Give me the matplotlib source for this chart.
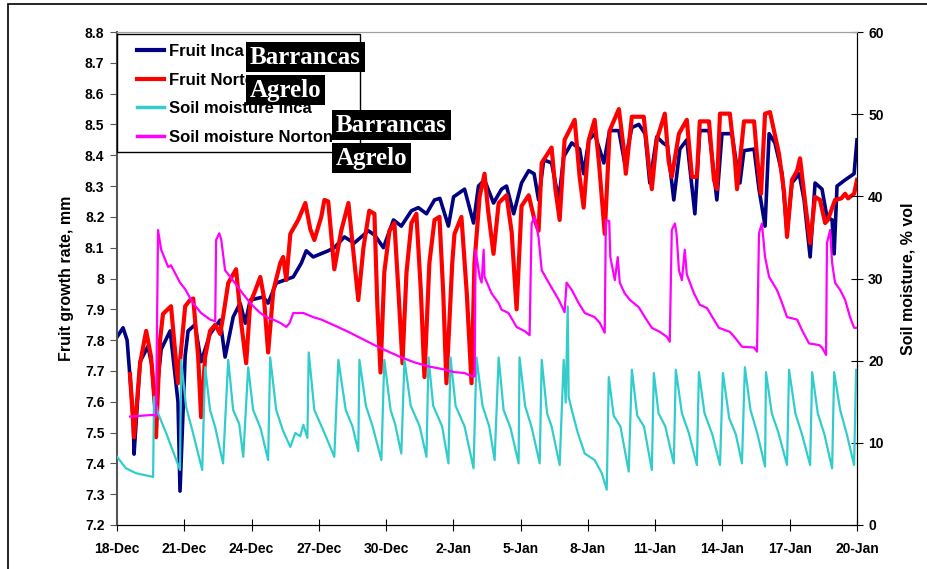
import matplotlib
matplotlib.use('Agg')
from matplotlib import pyplot as plt
from matplotlib.lines import Line2D
from matplotlib.patches import Rectangle

plt.rcParams['font.family'] = ['Liberation Sans', 'DejaVu Sans']
plt.rcParams['font.weight'] = 'bold'

# days since 18-Dec
date_labels = ['18-Dec', '21-Dec', '24-Dec', '27-Dec', '30-Dec', '2-Jan',
               '5-Jan', '8-Jan', '11-Jan', '14-Jan', '17-Jan', '20-Jan']

inca_days = [0.0, 0.27, 0.45, 0.72, 0.76, 1.03, 1.38, 1.55, 1.70, 1.97, 2.37, 2.72, 2.81,
             3.04, 3.17, 3.48, 3.75, 4.15, 4.60, 4.82, 5.18, 5.49, 5.72, 5.94, 6.52, 6.74,
             7.10, 7.86, 8.22, 8.44, 8.75, 9.42, 9.69, 10.14, 10.58, 11.21, 11.50, 11.88,
             12.33, 12.68, 13.13, 13.44, 13.80, 14.16, 14.40, 14.78, 15.01, 15.50, 15.90,
             16.12, 16.39, 16.79, 17.15, 17.37, 17.69, 18.04, 18.36, 18.60, 18.80, 19.03,
             19.38, 19.70, 19.92, 20.28, 20.63, 20.81, 21.04, 21.30, 21.71, 21.97, 22.38,
             22.64, 22.96, 23.27, 23.55, 23.76, 24.07, 24.35, 24.55, 24.83, 25.10, 25.41,
             25.77, 25.99, 26.40, 26.62, 26.75, 26.98, 27.42, 27.65, 27.78, 27.96, 28.41,
             28.63, 28.90, 29.08, 29.34, 29.66, 29.88, 30.10, 30.42, 30.64, 30.91, 31.13,
             31.44, 31.66, 31.89, 31.98, 32.11, 32.47, 32.87, 33.0]
inca_fruit = [7.81, 7.84, 7.80, 7.55, 7.43, 7.73, 7.78, 7.72, 7.58, 7.77, 7.83, 7.60, 7.31,
              7.75, 7.83, 7.85, 7.73, 7.82, 7.865, 7.745, 7.875, 7.92, 7.855, 7.93, 7.94, 7.92,
              7.985, 8.005, 8.05, 8.09, 8.07, 8.09, 8.10, 8.135, 8.115, 8.155, 8.14, 8.10,
              8.19, 8.17, 8.22, 8.23, 8.21, 8.255, 8.26, 8.17, 8.265, 8.29, 8.18,
              8.30, 8.32, 8.245, 8.29, 8.30, 8.21, 8.31, 8.35, 8.34, 8.255, 8.385,
              8.375, 8.255, 8.395, 8.44, 8.42, 8.34, 8.45, 8.47, 8.375, 8.48, 8.48,
              8.375, 8.49, 8.50, 8.47, 8.31, 8.46, 8.44, 8.43, 8.255, 8.42, 8.45,
              8.21, 8.48, 8.48, 8.34, 8.255, 8.47, 8.47, 8.36, 8.31, 8.415, 8.42,
              8.29, 8.17, 8.47, 8.44, 8.34, 8.15, 8.31, 8.34, 8.255, 8.07, 8.31,
              8.29, 8.20, 8.19, 8.08, 8.30, 8.32, 8.34, 8.45]

norton_days = [0.58, 0.76, 1.03, 1.30, 1.52, 1.70, 1.74, 1.92, 2.05, 2.41, 2.72, 3.04, 3.26,
               3.40, 3.62, 3.75, 3.93, 4.15, 4.38, 4.60, 4.73, 4.96, 5.31, 5.54, 5.76, 5.94,
               6.16, 6.39, 6.55, 6.74, 6.97, 7.28, 7.41, 7.55, 7.73, 8.08, 8.40, 8.62, 8.80,
               9.11, 9.25, 9.42, 9.69, 10.00, 10.32, 10.58, 10.76, 10.99, 11.25, 11.48, 11.61,
               11.75, 11.92, 12.15, 12.37, 12.55, 12.73, 12.91, 13.13, 13.35, 13.55, 13.71,
               13.93, 14.16, 14.38, 14.55, 14.69, 14.95, 15.05, 15.36, 15.60, 15.81, 15.94,
               16.17, 16.39, 16.55, 16.79, 17.02, 17.37, 17.60, 17.82, 18.04, 18.36, 18.62,
               18.80, 18.94, 19.38, 19.55, 19.74, 19.96, 20.41, 20.63, 20.81, 21.04, 21.30,
               21.50, 21.75, 21.97, 22.38, 22.60, 22.69, 22.96, 23.49, 23.70, 23.85, 24.07,
               24.43, 24.60, 24.74, 25.06, 25.41, 25.64, 25.86, 25.99, 26.40, 26.62, 26.75,
               26.89, 27.33, 27.55, 27.65, 27.96, 28.41, 28.55, 28.72, 28.90, 29.12, 29.52,
               29.75, 29.88, 30.10, 30.33, 30.46, 30.70, 30.91, 31.13, 31.35, 31.58, 31.70,
               32.02, 32.30, 32.47, 32.60, 32.87, 33.0]
norton_fruit = [7.69, 7.485, 7.725, 7.83, 7.745, 7.58, 7.485, 7.80, 7.885, 7.91, 7.66, 7.91, 7.93,
                7.935, 7.745, 7.55, 7.745, 7.83, 7.85, 7.82, 7.875, 7.985, 8.03, 7.855, 7.725, 7.92,
                7.96, 8.005, 7.94, 7.76, 7.96, 8.05, 8.07, 7.995, 8.145, 8.19, 8.245, 8.16, 8.125,
                8.20, 8.255, 8.25, 8.03, 8.155, 8.245, 8.06, 7.93, 8.10, 8.22, 8.21, 7.91,
                7.695, 8.02, 8.155, 8.18, 7.96, 7.725, 8.02, 8.18, 8.21, 7.96, 7.68,
                8.05, 8.19, 8.20, 7.95, 7.66, 8.05, 8.145, 8.20, 7.95, 7.66, 8.05,
                8.265, 8.34, 8.22, 8.08, 8.245, 8.27, 8.15, 7.90, 8.235, 8.27, 8.19,
                8.155, 8.375, 8.425, 8.29, 8.19, 8.45, 8.515, 8.33, 8.23, 8.45, 8.515,
                8.37, 8.145, 8.48, 8.55, 8.42, 8.34, 8.525, 8.525, 8.38, 8.29, 8.45,
                8.535, 8.38, 8.33, 8.47, 8.515, 8.33, 8.33, 8.51, 8.51, 8.32, 8.29,
                8.535, 8.535, 8.39, 8.29, 8.51, 8.51, 8.39, 8.275, 8.535, 8.54, 8.405,
                8.28, 8.135, 8.32, 8.35, 8.39, 8.24, 8.115, 8.265, 8.255, 8.18, 8.19,
                8.255, 8.26, 8.275, 8.26, 8.275, 8.32]

inca_soil_days = [0.0, 0.40, 0.85, 1.61, 1.65, 1.83, 2.19, 2.59, 2.81, 2.86, 3.08, 3.39, 3.80,
                  3.93, 4.15, 4.38, 4.73, 4.96, 5.18, 5.45, 5.63, 5.85, 6.07, 6.40, 6.74, 6.83,
                  7.10, 7.40, 7.73, 7.95, 8.17, 8.31, 8.49, 8.55, 8.80, 9.25, 9.69, 9.87, 10.2,
                  10.5, 10.76, 10.81, 11.1, 11.4, 11.79, 11.92, 12.2, 12.4, 12.68, 12.82, 13.1,
                  13.5, 13.80, 13.89, 14.1, 14.5, 14.78, 14.87, 15.1, 15.5, 15.90, 16.03, 16.3,
                  16.6, 16.84, 17.02, 17.24, 17.55, 17.91, 17.95, 18.2, 18.5, 18.85, 18.94,
                  19.18, 19.38, 19.74, 19.92, 20.01, 20.10, 20.14, 20.28, 20.55, 20.86, 21.30,
                  21.62, 21.84, 21.93, 22.15, 22.45, 22.82, 22.96, 23.2, 23.5, 23.85, 23.94,
                  24.15, 24.45, 24.83, 24.92, 25.19, 25.5, 25.86, 25.95, 26.2, 26.55, 26.89,
                  27.02, 27.3, 27.6, 27.87, 28.00, 28.25, 28.55, 28.90, 28.94, 29.2, 29.5,
                  29.88, 29.97, 30.25, 30.55, 30.91, 31.00, 31.25, 31.55, 31.89, 31.98, 32.25,
                  32.55, 32.87, 32.96, 33.0]
inca_soil = [8.3, 6.9, 6.3, 5.85, 15.6, 13.6, 11.2, 8.3, 6.7, 20.1, 14.4, 11.2, 6.7,
             19.2, 14.0, 11.9, 7.5, 20.1, 14.0, 12.3, 8.3, 19.2, 14.0, 11.8, 7.9, 20.4,
             14.0, 11.5, 9.5, 11.2, 10.8, 12.2, 10.6, 21.0, 14.0, 11.2, 8.3, 20.1, 14.0,
             12.0, 9.0, 20.1, 14.5, 12.0, 7.9, 20.1, 14.0, 12.3, 8.7, 20.1, 14.5,
             12.0, 8.3, 20.4, 14.5, 12.0, 7.5, 20.4, 14.5, 12.0, 6.9, 20.4, 14.5,
             12.0, 7.9, 20.4, 14.0, 11.8, 7.5, 20.4, 14.5, 11.8, 7.5, 20.1,
             13.6, 12.0, 7.3, 20.1, 14.9, 26.6, 15.6, 14.0, 11.2, 8.7, 7.9,
             6.3, 4.3, 18.0, 13.3, 12.0, 6.5, 18.9, 13.3, 12.0, 6.7, 18.5,
             13.6, 12.0, 7.5, 18.9, 13.6, 11.2, 7.3, 18.6, 13.6, 11.0, 7.3,
             18.5, 13.0, 11.0, 7.5, 19.2, 14.0, 11.2, 7.1, 18.6, 13.6, 11.2,
             7.3, 18.9, 13.6, 11.0, 7.3, 18.6, 13.6, 11.0, 6.9, 18.6, 14.0,
             11.0, 7.3, 18.9, 18.5]

norton_soil_days = [0.58, 1.61, 1.74, 1.83, 1.97, 2.28, 2.41, 2.81, 3.04, 3.39, 3.75, 4.15, 4.38,
                    4.42, 4.56, 4.65, 4.82, 5.05, 5.49, 5.94, 6.39, 6.74, 6.97, 7.28, 7.55, 7.70,
                    7.86, 8.31, 8.75, 9.11, 9.69, 10.32, 10.90, 11.48, 12.10, 12.68, 13.26, 13.89,
                    14.47, 15.05, 15.50, 15.81, 15.95, 15.99, 16.17, 16.26, 16.35, 16.39, 16.70,
                    17.02, 17.15, 17.46, 17.82, 18.18, 18.40, 18.49, 18.62, 18.80, 18.94, 19.25,
                    19.70, 19.96, 20.05, 20.28, 20.59, 20.86, 21.30, 21.53, 21.75, 21.80, 21.95,
                    22.0, 22.20, 22.33, 22.42, 22.64, 22.87, 23.27, 23.54, 23.85, 24.21, 24.52,
                    24.65, 24.74, 24.88, 24.95, 25.06, 25.19, 25.32, 25.41, 25.73, 25.99, 26.31,
                    26.55, 26.84, 27.33, 27.56, 27.87, 28.41, 28.54, 28.63, 28.76, 28.90, 29.08,
                    29.43, 29.66, 29.88, 30.33, 30.55, 30.86, 31.31, 31.44, 31.62, 31.66, 31.80,
                    31.89, 32.02, 32.25, 32.47, 32.69, 32.87, 33.0]
norton_soil = [13.2, 13.4, 13.2, 35.9, 33.5, 31.4, 31.6, 29.5, 28.7, 27.0, 25.8, 25.0, 24.8,
               34.7, 35.5, 34.7, 31.0, 30.2, 28.6, 27.0, 25.8, 25.2, 25.0, 24.6, 24.1, 24.6,
               25.8, 25.8, 25.3, 25.0, 24.3, 23.5, 22.7, 21.9, 21.1, 20.4, 19.8, 19.3,
               19.0, 18.6, 18.5, 18.1, 18.1, 33.5, 30.2, 29.5, 33.5, 30.2, 28.2,
               27.0, 26.2, 25.8, 24.1, 23.6, 23.1, 36.7, 37.5, 35.0, 31.0, 29.5,
               27.4, 25.9, 29.5, 28.6, 27.0, 25.8, 25.3, 24.6, 23.4, 37.1, 37.0,
               32.6, 29.8, 32.6, 29.5, 28.2, 27.4, 26.5, 25.3, 24.0, 23.5, 22.9,
               22.3, 35.9, 36.7, 35.5, 31.0, 29.8, 33.5, 30.5, 28.2, 26.8, 26.4,
               25.3, 24.0, 23.5, 22.8, 21.7, 21.6, 21.1, 35.5, 36.7, 32.6, 30.2,
               28.6, 27.0, 25.3, 25.0, 23.7, 22.1, 21.9, 21.6, 20.7, 34.3, 35.9,
               31.9, 29.5, 28.6, 27.4, 25.3, 24.0, 24.0]

series_labels = ['Fruit Inca', 'Fruit Norton', 'Soil moisture Inca', 'Soil moisture Norton']
series_colors = ['#000080', '#ff0000', '#33cccc', '#ff00ff']

W, H = 928, 569
fig = plt.figure(figsize=(W / 100, H / 100), dpi=100)
ax = fig.add_axes([117 / W, 1 - 525 / H, 740 / W, 493 / H])
ax2 = ax.twinx()

ax.plot(inca_days, inca_fruit, color=series_colors[0], lw=2.6, solid_joinstyle='round')
ax.plot(norton_days, norton_fruit, color=series_colors[1], lw=3.0, solid_joinstyle='round')
ax2.plot(inca_soil_days, inca_soil, color=series_colors[2], lw=1.6)
ax2.plot(norton_soil_days, norton_soil, color=series_colors[3], lw=1.6)

ax.set_xlim(0, 33)
ax.set_ylim(7.2, 8.8)
ax2.set_ylim(0, 60)
ax.set_xticks(range(0, 34, 3))
ax.set_xticklabels(date_labels)
ax.set_yticks([7.2 + 0.1 * i for i in range(17)])
ax.set_yticklabels(['8' if abs(7.2 + 0.1 * i - 8) < 1e-9 else '%.1f' % (7.2 + 0.1 * i)
                    for i in range(17)])
ax2.set_yticks(range(0, 61, 10))

ax.tick_params(axis='x', direction='inout', length=8, labelsize=10, pad=8)
ax.tick_params(axis='y', direction='out', length=5, labelsize=10, color='#555555', pad=4)
ax2.tick_params(axis='y', direction='inout', length=8, labelsize=10, pad=4)

ax.spines['top'].set_color('#a0a0a0')
ax.spines['left'].set_color('#555555')
ax.spines['left'].set_linewidth(1.5)
ax2.spines['top'].set_color('#a0a0a0')
ax2.spines['left'].set_visible(False)

ax.set_ylabel('Fruit growth rate, mm', fontsize=11.5, fontweight='bold', labelpad=8)
ax2.set_ylabel('Soil moisture, % vol', fontsize=11.5, fontweight='bold', labelpad=12)

# legend frame drawn separately so its padding can be set freely
frame = Rectangle((117 / W, 1 - 152 / H), 243 / W, 118 / H, transform=fig.transFigure,
                  facecolor='white', edgecolor='black', lw=1.0, clip_on=False, zorder=4.5)
ax2.add_patch(frame)

handles = [Line2D([], [], color=c, lw=3 if i < 2 else 2.5) for i, c in enumerate(series_colors)]
leg = ax2.legend(handles, series_labels, loc='upper left', bbox_to_anchor=(137 / W, 1 - 44 / H),
                 bbox_transform=fig.transFigure, borderaxespad=0, fontsize=12, frameon=False,
                 handlelength=1.6, handletextpad=0.3, labelspacing=0.82, borderpad=0)
for t in leg.get_texts():
    t.set_fontweight('bold')

# site name tags laid over the legend
tag_style = dict(facecolor='black', edgecolor='none', boxstyle='square,pad=0.15')
tags = [('Barrancas', 250, 57), ('Agrelo', 250, 90), ('Barrancas', 336, 125), ('Agrelo', 336, 158)]
for name, px, py in tags:
    fig.text(px / W, 1 - py / H, name, color='white', fontsize=18, fontweight='bold',
             family=['Liberation Serif', 'DejaVu Serif'], va='center', ha='left',
             bbox=tag_style, zorder=10)

# outer frame
fig.patches.append(Rectangle((8 / W, -0.1), 1.2, 1 - 4 / H + 0.1, transform=fig.transFigure,
                             fill=False, edgecolor='black', lw=1.2))

fig.savefig('out.png', dpi=100)
